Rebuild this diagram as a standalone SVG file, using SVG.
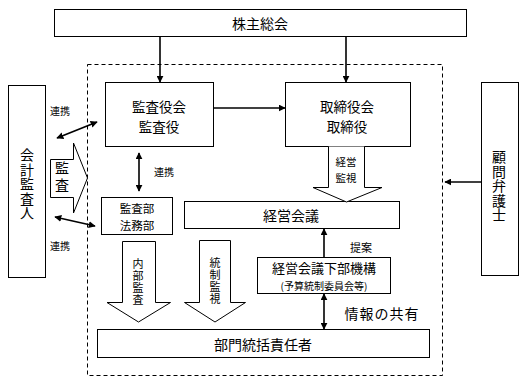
<svg xmlns="http://www.w3.org/2000/svg" width="526" height="382" viewBox="0 0 526 382">
<defs>
<marker id="ah" viewBox="0 0 10 10" refX="9" refY="5" markerWidth="7" markerHeight="7" markerUnits="userSpaceOnUse" orient="auto-start-reverse">
<path d="M0,0 L10,5 L0,10 z" fill="#000"/>
</marker>
</defs>
<style>
.box{fill:#fff;stroke:#000;stroke-width:1}
.blk{fill:#fff;stroke:#000;stroke-width:1}
.ln{fill:none;stroke:#000;stroke-width:1.6}
.t{font-family:"Noto Sans CJK JP","Noto Sans CJK SC",sans-serif;fill:#000;text-anchor:middle;dominant-baseline:central}
.v{font-family:"Noto Sans CJK JP","Noto Sans CJK SC",sans-serif;fill:#000;text-anchor:middle;writing-mode:vertical-rl;glyph-orientation-vertical:0}
</style>
<rect x="0" y="0" width="526" height="382" fill="#fff"/>
<rect x="87.5" y="64.5" width="355" height="311" fill="none" stroke="#000" stroke-width="1" stroke-dasharray="4,3"/>

<g id="kabunushi"><rect class="box" x="54.5" y="9.5" width="412" height="27"/><text class="t" x="260" y="23" font-size="14">株主総会</text></g>
<g id="kansayaku"><rect class="box" x="105.5" y="82.5" width="108" height="64"/><text class="t" font-size="13.5"><tspan x="159" y="106">監査役会</tspan><tspan x="159" y="126">監査役</tspan></text></g>
<g id="torishimari"><rect class="box" x="285.5" y="82.5" width="125" height="64"/><text class="t" font-size="13.5"><tspan x="347" y="106">取締役会</tspan><tspan x="347" y="126">取締役</tspan></text></g>
<g id="kaikei"><rect class="box" x="8.5" y="85.5" width="37" height="192"/>
<text class="v" x="27" y="184" font-size="14" letter-spacing="0.5">会計監査人</text></g>
<g id="komon"><rect class="box" x="481.5" y="82.5" width="37" height="193"/>
<text class="v" x="499" y="186" font-size="14" letter-spacing="0.5">顧問弁護士</text></g>
<g id="kansabu"><rect class="box" x="101.5" y="197.5" width="71" height="37"/><text class="t" font-size="11.5"><tspan x="137" y="208">監査部</tspan><tspan x="137" y="225">法務部</tspan></text></g>
<g id="keieikaigi"><rect class="box" x="184.5" y="201.5" width="215" height="27"/><text class="t" x="291" y="215" font-size="14">経営会議</text></g>
<g id="kabukikou"><rect class="box" x="257.5" y="257.5" width="133" height="36"/><text class="t" font-size="13"><tspan x="324" y="267">経営会議下部機構</tspan><tspan x="324" y="285" font-size="10">(予算統制委員会等)</tspan></text></g>
<g id="bumon"><rect class="box" x="97.5" y="329.5" width="332" height="28"/><text class="t" x="263" y="344" font-size="14">部門統括責任者</text></g>

<g id="kansa-arrow"><path class="blk" d="M50.5,159.5 H73.5 V143 L87.5,178 L73.5,213 V197.5 H50.5 Z"/><text class="v" x="62" y="178" font-size="14" letter-spacing="3">監査</text></g>
<g id="keieikanshi"><path class="blk" d="M328.5,146.5 V187.5 H313 L346.5,202 L382,187.5 H364.5 V146.5"/><text class="t" font-size="10.5"><tspan x="346" y="161">経営</tspan><tspan x="346" y="177">監視</tspan></text></g>
<g id="naibukansa"><path class="blk" d="M122.5,241.5 H155.5 V302.5 H170.5 L138.5,322 L107,302.5 H122.5 Z"/><text class="v" x="138" y="282" font-size="11" letter-spacing="1">内部監査</text></g>
<g id="touseikanshi"><path class="blk" d="M199.5,240.5 H230.5 V302.5 H245.5 L215,322 L184.5,302.5 H199.5 Z"/><text class="v" x="215" y="281" font-size="11" letter-spacing="1">統制監視</text></g>

<g id="connectors">
<line class="ln" x1="160" y1="36.5" x2="160" y2="82" marker-end="url(#ah)"/>
<line class="ln" x1="346" y1="36.5" x2="346" y2="82" marker-end="url(#ah)"/>
<line class="ln" x1="213.5" y1="108" x2="285" y2="108" marker-end="url(#ah)"/>
<line class="ln" x1="57" y1="138" x2="97" y2="122" marker-start="url(#ah)" marker-end="url(#ah)"/>
<line class="ln" x1="55" y1="217" x2="95" y2="226" marker-start="url(#ah)" marker-end="url(#ah)"/>
<line class="ln" x1="139" y1="153" x2="139" y2="191" marker-start="url(#ah)" marker-end="url(#ah)"/>
<line class="ln" x1="481" y1="182" x2="445" y2="182" marker-end="url(#ah)"/>
<line class="ln" x1="324" y1="257" x2="324" y2="229" marker-end="url(#ah)"/>
<line class="ln" x1="324" y1="294" x2="324" y2="329" marker-start="url(#ah)" marker-end="url(#ah)"/>
</g>
<text class="t" x="60" y="110" font-size="10">連携</text>
<text class="t" x="60" y="245" font-size="10">連携</text>
<text class="t" x="164" y="171" font-size="10">連携</text>
<text class="t" x="361" y="247" font-size="11">提案</text>
<text class="t" x="382" y="313" font-size="14" letter-spacing="1">情報の共有</text>
</svg>
